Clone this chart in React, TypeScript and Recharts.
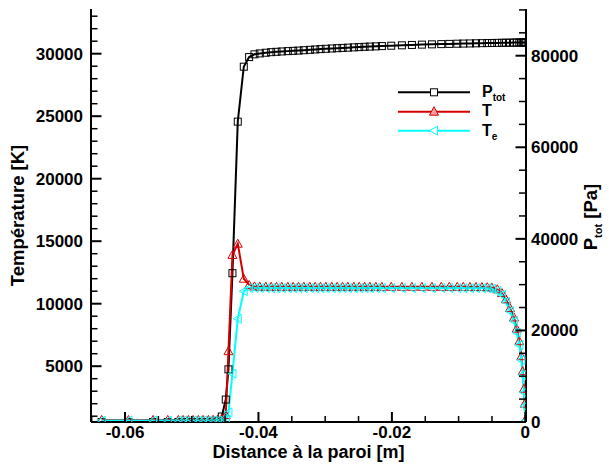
import React from 'react';
import { ComposedChart, Line, XAxis, YAxis, Customized } from 'recharts';

// Distance to the wall [m]
const distance = [
  -0.0635, -0.0595, -0.0558, -0.0536, -0.052, -0.0513, -0.0505, -0.0498, -0.049, -0.0483,
  -0.0475, -0.0468, -0.0461, -0.0455, -0.0449, -0.0445, -0.0439, -0.0431, -0.0422, -0.0414,
  -0.0406, -0.0398, -0.0389, -0.0381, -0.0373, -0.0365, -0.0356, -0.0348, -0.034, -0.0332,
  -0.0323, -0.0315, -0.0307, -0.0299, -0.029, -0.0282, -0.0274, -0.0266, -0.0257, -0.0249,
  -0.0241, -0.0233, -0.0224, -0.0215, -0.0201, -0.0185, -0.017, -0.0155, -0.014, -0.0126,
  -0.0114, -0.0102, -0.0093, -0.0083, -0.0074, -0.0065, -0.0057, -0.005, -0.0042, -0.0035,
  -0.0029, -0.0023, -0.0017, -0.0013, -0.0009, -0.0006, -0.0004, -0.0002, -0.0001, 0,
];

// Total pressure [Pa]
const ptot = [
  0, 0, 0, 0, 0, 0, 0, 0, 0, 0,
  20, 60, 250, 1200, 4900, 11500, 32500, 65600, 77600, 79700,
  80300, 80500, 80650, 80770, 80850, 80930, 81000, 81060, 81120, 81200,
  81280, 81360, 81440, 81510, 81580, 81640, 81700, 81760, 81820, 81880,
  81940, 81990, 82040, 82100, 82180, 82270, 82350, 82420, 82480, 82530,
  82580, 82620, 82650, 82680, 82710, 82740, 82760, 82780, 82800, 82820,
  82840, 82850, 82860, 82870, 82880, 82890, 82895, 82900, 82905, 82910,
];

// Temperature T [K]
const temperature = [
  700, 700, 700, 700, 700, 700, 700, 700, 700, 700,
  700, 710, 740, 800, 1100, 6200, 13900, 14800, 12000, 11500,
  11380, 11360, 11350, 11350, 11350, 11350, 11350, 11350, 11350, 11350,
  11350, 11350, 11350, 11350, 11350, 11350, 11350, 11350, 11350, 11350,
  11350, 11350, 11350, 11350, 11350, 11350, 11350, 11350, 11350, 11350,
  11350, 11350, 11350, 11340, 11340, 11330, 11320, 11280, 11150, 10850,
  10350, 9650, 8900, 8000, 7000, 5800, 4600, 3200, 2000, 700,
];

// Electron temperature Te [K]
const electronTemp = [
  650, 650, 650, 650, 650, 650, 650, 650, 650, 650,
  650, 650, 660, 680, 700, 1300, 4400, 8800, 11000, 11250,
  11260, 11260, 11250, 11250, 11250, 11250, 11250, 11250, 11250, 11250,
  11250, 11250, 11250, 11250, 11250, 11250, 11250, 11250, 11250, 11250,
  11250, 11250, 11250, 11250, 11250, 11250, 11250, 11250, 11250, 11250,
  11250, 11250, 11250, 11240, 11240, 11240, 11230, 11180, 11030, 10700,
  10150, 9400, 8600, 7700, 6700, 5500, 4300, 2900, 1800, 600,
];

const xTicks = [-0.065, -0.06, -0.055, -0.05, -0.045, -0.04, -0.035, -0.03, -0.025, -0.02, -0.015, -0.01, -0.005, 0];
const xLabels = [-0.06, -0.04, -0.02, 0];
const tTicks = [1000, 2000, 3000, 4000, 5000, 6000, 7000, 8000, 9000, 10000, 11000, 12000, 13000, 14000, 15000, 16000, 17000, 18000, 19000, 20000, 21000, 22000, 23000, 24000, 25000, 26000, 27000, 28000, 29000, 30000, 31000, 32000, 33000];
const tLabels = [5000, 10000, 15000, 20000, 25000, 30000];
const pTicks = [0, 5000, 10000, 15000, 20000, 25000, 30000, 35000, 40000, 45000, 50000, 55000, 60000, 65000, 70000, 75000, 80000, 85000, 90000];
const pLabels = [0, 20000, 40000, 60000, 80000];

const data = distance.map((d, i) => ({ d, p: ptot[i], t: temperature[i], te: electronTemp[i] }));

const FONT = '"Liberation Sans", Arial, Helvetica, sans-serif';
const RED = '#d40000';
const CYAN = '#00ffff';
const TICK_FS = 17;

const isIn = (arr: number[], v: number) => arr.some((a) => Math.abs(a - v) < 1e-9);

const XTick = (props: any) => {
  const { x, y, payload } = props;
  const v = payload.value;
  const major = isIn(xLabels, v);
  return (
    <g>
      <line x1={x} x2={x} y1={y} y2={y - (major ? 10 : 6)} stroke="#000" strokeWidth={major ? 2 : 1.5} />
      {major && (
        <text x={x} y={y + 15.5} textAnchor="middle" fontFamily={FONT} fontWeight="bold" fontSize={TICK_FS} fill="#000">
          {String(v)}
        </text>
      )}
    </g>
  );
};

const LeftTick = (props: any) => {
  const { x, y, payload } = props;
  const v = payload.value;
  const major = isIn(tLabels, v);
  return (
    <g>
      <line x1={x} x2={x + (major ? 10.5 : 6.5)} y1={y} y2={y} stroke="#000" strokeWidth={major ? 2 : 1.5} />
      {major && (
        <text x={x - 8} y={y + 6} textAnchor="end" fontFamily={FONT} fontWeight="bold" fontSize={TICK_FS} fill="#000">
          {String(v)}
        </text>
      )}
    </g>
  );
};

const RightTick = (props: any) => {
  const { x, y, payload } = props;
  const v = payload.value;
  const major = isIn(pLabels, v);
  return (
    <g>
      <line x1={x} x2={x - (major ? 10.5 : 7)} y1={y} y2={y} stroke="#000" strokeWidth={major ? 2 : 1.5} />
      {major && (
        <text x={x + 5} y={y + 6} textAnchor="start" fontFamily={FONT} fontWeight="bold" fontSize={TICK_FS} fill="#000">
          {String(v)}
        </text>
      )}
    </g>
  );
};

const squareDot = (props: any) => {
  const { cx, cy, index } = props;
  if (cx == null || cy == null) return <g key={`s${index}`} />;
  return <rect key={`s${index}`} x={cx - 3.5} y={cy - 3.5} width={7} height={7} fill="none" stroke="#000" strokeWidth={1} />;
};

const triUpDot = (props: any) => {
  const { cx, cy, index } = props;
  if (cx == null || cy == null) return <g key={`u${index}`} />;
  return (
    <polygon
      key={`u${index}`}
      points={`${cx},${cy - 4.5} ${cx - 4.5},${cy + 3.5} ${cx + 4.5},${cy + 3.5}`}
      fill="none"
      stroke={RED}
      strokeWidth={1}
    />
  );
};

const triLeftDot = (props: any) => {
  const { cx, cy, index } = props;
  if (cx == null || cy == null) return <g key={`l${index}`} />;
  return (
    <polygon
      key={`l${index}`}
      points={`${cx - 4.5},${cy} ${cx + 3.5},${cy - 4.5} ${cx + 3.5},${cy + 4.5}`}
      fill="none"
      stroke={CYAN}
      strokeWidth={1}
    />
  );
};

const Annotations = () => (
  <g fontFamily={FONT} fontWeight="bold" fill="#000">
    {/* legend */}
    <line x1={398} x2={470} y1={92.3} y2={92.3} stroke="#000" strokeWidth={2} />
    <rect x={430.5} y={88.8} width={7} height={7} fill="#fff" stroke="#000" strokeWidth={1} />
    <text x={482} y={97} fontSize={16}>
      P<tspan fontSize={10} dy={4}>tot</tspan>
    </text>
    <line x1={398} x2={470} y1={111.7} y2={111.7} stroke={RED} strokeWidth={2} />
    <polygon points={`434,${111.7 - 5} ${429.5},${111.7 + 3.5} ${438.5},${111.7 + 3.5}`} fill="#f4a0a0" stroke={RED} strokeWidth={1} />
    <text x={482} y={116} fontSize={16}>T</text>
    <line x1={398} x2={470} y1={130.7} y2={130.7} stroke={CYAN} strokeWidth={2} />
    <polygon points={`${429.5},130.7 ${437.5},${130.7 - 4.5} ${437.5},${130.7 + 4.5}`} fill="#fff" stroke={CYAN} strokeWidth={1} />
    <text x={482} y={135.7} fontSize={16}>
      T<tspan fontSize={10} dy={4}>e</tspan>
    </text>
    {/* axis titles */}
    <text x={308.5} y={457.5} textAnchor="middle" fontSize={18}>Distance à la paroi [m]</text>
    <text transform="translate(24,215.5) rotate(-90)" textAnchor="middle" fontSize={18.5}>Température [K]</text>
    <text transform="translate(597,217) rotate(-90)" textAnchor="middle" fontSize={18.5}>
      P<tspan fontSize={11} dy={5}>tot</tspan>
      <tspan dy={-5}> [Pa]</tspan>
    </text>
  </g>
);

export default function App() {
  return (
    <div style={{ position: 'absolute', left: 0, top: 0, width: 609, height: 466, background: '#fff' }}>
      <ComposedChart width={609} height={466} data={data} margin={{ top: 9, right: 0, bottom: 0, left: 0 }}>
        <XAxis
          dataKey="d"
          type="number"
          domain={[-0.0651, 0.0001]}
          allowDataOverflow
          ticks={xTicks}
          interval={0}
          tickSize={0}
          tickMargin={0}
          tick={<XTick />}
          height={44}
          axisLine={{ stroke: '#000', strokeWidth: 2 }}
          tickLine={false}
        />
        <YAxis
          yAxisId="t"
          orientation="left"
          type="number"
          domain={[536, 33576]}
          allowDataOverflow
          ticks={tTicks}
          interval={0}
          tickSize={0}
          tickMargin={0}
          tick={<LeftTick />}
          width={91}
          axisLine={{ stroke: '#000', strokeWidth: 2 }}
          tickLine={false}
        />
        <YAxis
          yAxisId="p"
          orientation="right"
          type="number"
          domain={[0, 90200]}
          allowDataOverflow
          ticks={pTicks}
          interval={0}
          tickSize={0}
          tickMargin={0}
          tick={<RightTick />}
          width={83}
          axisLine={{ stroke: '#000', strokeWidth: 2 }}
          tickLine={false}
        />
        <Line yAxisId="p" dataKey="p" type="linear" stroke="#000" strokeWidth={2} dot={squareDot} isAnimationActive={false} />
        <Line yAxisId="t" dataKey="t" type="linear" stroke={RED} strokeWidth={2} dot={triUpDot} isAnimationActive={false} />
        <Line yAxisId="t" dataKey="te" type="linear" stroke={CYAN} strokeWidth={2} dot={triLeftDot} isAnimationActive={false} />
        <Customized component={Annotations} />
      </ComposedChart>
    </div>
  );
}
